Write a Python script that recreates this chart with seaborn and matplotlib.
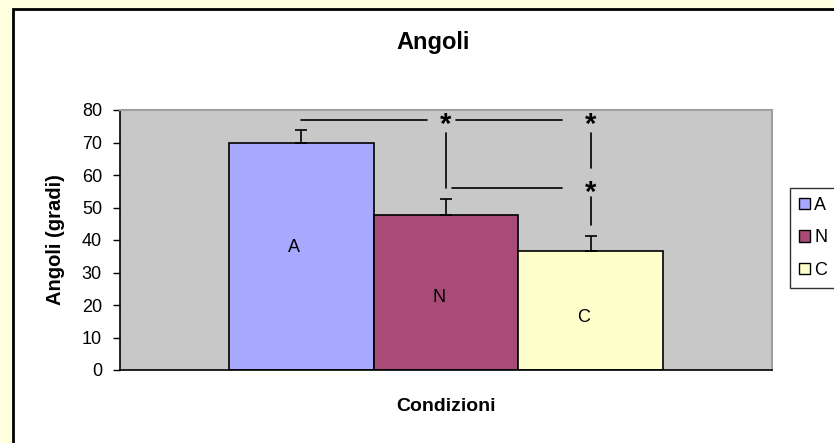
import matplotlib
matplotlib.use("Agg")
import matplotlib.pyplot as plt
import seaborn as sns
import pandas as pd
from matplotlib.patches import Rectangle

# data
conditions = ["A", "N", "C"]
angles = [70.0, 47.7, 36.6]
errors = [3.8, 5.0, 4.6]
colors = ["#A8A8FF", "#A84B78", "#FFFFCC"]

df = pd.DataFrame({"cond": conditions, "angle": angles})

sns.set_style("white")
plt.rcParams["font.family"] = ["Liberation Sans", "DejaVu Sans"]
plt.rcParams["text.color"] = "black"
plt.rcParams["axes.labelcolor"] = "black"
plt.rcParams["ytick.color"] = "black"

fig = plt.figure(figsize=(8.34, 4.43), dpi=100)
fig.patch.set_facecolor("#FFFFE0")

# white chart area with black frame (runs off right/bottom edge)
fig.patches.append(Rectangle((13 / 834, -0.05), 1.0, 1 - 9 / 443 + 0.05,
                             transform=fig.transFigure, facecolor="white",
                             edgecolor="black", linewidth=2, zorder=-5))

ax = fig.add_axes([120 / 834, 1 - 370 / 443, 652 / 834, 260 / 443])
ax.set_zorder(2)
ax.set_facecolor("#C8C8C8")

sns.barplot(data=df, x="cond", y="angle", hue="cond", palette=colors,
            width=1.0, edgecolor="black", linewidth=1.2, legend=False, ax=ax,
            saturation=1)

# one-sided error bars
for i, (v, e) in enumerate(zip(angles, errors)):
    ax.errorbar(i, v, yerr=[[0], [e]], color="black", capsize=4, lw=1.2,
                capthick=1.2)

# in-bar labels (excel places them a bit off the middle)
label_shift = [2.8, -1.6, -2.3]
for i, v in enumerate(angles):
    ax.text(i - 0.05, v / 2 + label_shift[i], conditions[i], ha="center",
            va="center", fontsize=13)

# significance brackets
top = 77
mid = 56
kw = dict(color="black", lw=1.2)
ax.plot([0, 0.87], [top, top], **kw)
ax.plot([1.07, 1.8], [top, top], **kw)
ax.plot([1, 1], [73, mid], **kw)
ax.plot([1.04, 1.8], [mid, mid], **kw)
ax.plot([2, 2], [73, 62.2], **kw)
ax.plot([2, 2], [53.2, 44.6], **kw)
for x, y in [(1, top), (2, top), (2, mid)]:
    ax.text(x, y - 1.5, "*", ha="center", va="center", fontsize=21,
            fontweight="bold")

ax.set_xlim(-1.25, 3.25)
ax.set_ylim(0, 80)
ax.set_yticks(range(0, 81, 10))
ax.set_xticks([])
ax.tick_params(axis="y", direction="out", length=5, width=1, labelsize=13,
               left=True, pad=8)
for s in ["top", "right"]:
    ax.spines[s].set_color("#A0A0A0")
    ax.spines[s].set_linewidth(1.5)
for s in ["left", "bottom"]:
    ax.spines[s].set_color("black")
    ax.spines[s].set_linewidth(1.2)

ax.set_xlabel("Condizioni", fontsize=14, fontweight="bold", labelpad=20)
ax.set_ylabel("Angoli (gradi)", fontsize=14.5, fontweight="bold", labelpad=12)
fig.text(433 / 834, 1 - 42 / 443, "Angoli", ha="center", va="center",
         fontsize=17, fontweight="bold")

# legend runs off the right edge, as in the original
handles = [Rectangle((0, 0), 1, 1, facecolor=c, edgecolor="black", lw=1)
           for c in colors]
fig.legend(handles, conditions, loc="upper left",
           bbox_to_anchor=(790 / 834, 1 - 188 / 443), borderaxespad=0,
           frameon=True, fancybox=False, edgecolor="black", fontsize=13,
           handlelength=0.6, handleheight=0.6, handletextpad=0.25,
           labelspacing=0.85, borderpad=0.5)

fig.savefig("out.png", dpi=100, facecolor=fig.get_facecolor())
